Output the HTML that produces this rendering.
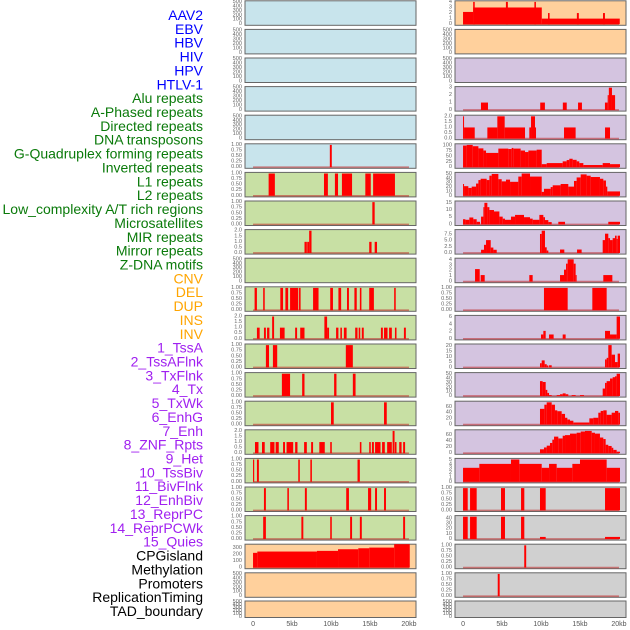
<!DOCTYPE html>
<html><head><meta charset="utf-8"><style>
html,body{margin:0;padding:0;background:#fff;}
svg{display:block;font-family:"Liberation Sans",sans-serif;}
</style></head><body>
<svg id="chart" width="630" height="630" viewBox="0 0 630 630" xmlns="http://www.w3.org/2000/svg"></svg>
<script>
// ---------- labels ----------
const trackLabels = ["AAV2","EBV","HBV","HIV","HPV","HTLV-1","Alu repeats","A-Phased repeats","Directed repeats","DNA transposons","G-Quadruplex forming repeats","Inverted repeats","L1 repeats","L2 repeats","Low_complexity A/T rich regions","Microsatellites","MIR repeats","Mirror repeats","Z-DNA motifs","CNV","DEL","DUP","INS","INV","1_TssA","2_TssAFlnk","3_TxFlnk","4_Tx","5_TxWk","6_EnhG","7_Enh","8_ZNF_Rpts","9_Het","10_TssBiv","11_BivFlnk","12_EnhBiv","13_ReprPC","14_ReprPCWk","15_Quies","CPGisland","Methylation","Promoters","ReplicationTiming","TAD_boundary"];
const labelGroups = [6,13,5,15,5];
const groupColors = ["#0000ff","#0a7a0a","#ffa500","#a020f0","#000000"];
const xTickValues = [0,5,10,15,20];
const xTickLabels = ["0","5kb","10kb","15kb","20kb"];

// ---------- tick sets ----------
const T500 = [0,100,200,300,400,500];
const T1 = [0,0.25,0.5,0.75,1.0];
const T1L = ["0.00","0.25","0.50","0.75","1.00"];
const T2 = [0,0.5,1.0,1.5,2.0];
const T2L = ["0.0","0.5","1.0","1.5","2.0"];

// ---------- left column data: [startKb, endKb, value] ----------
const L_G4 = [[9.85,10.1,1]];
const L_L1 = [[2.0,2.8,1],[9.1,9.6,1],[10.5,10.9,1],[11.4,12.7,1],[14.4,15.1,1],[15.4,18.2,1]];
const L_L2 = [[15.3,15.6,1]];
const L_MIR = [[6.6,6.9,1],[6.95,7.2,1],[7.2,7.5,2],[14.9,15.2,1],[15.6,15.9,1]];
const L_DEL = [[0.2,0.5,1],[1.3,1.5,1],[3.5,3.85,1],[4.15,4.5,1],[4.75,5.8,1],[5.9,6.1,1],[7.7,8.4,1],[9.9,10.25,1],[10.95,11.3,1],[12.05,12.3,1],[13.0,13.3,1],[13.7,13.9,1],[14.9,15.5,1],[18.1,18.3,1]];
const L_DUP = [[0.5,0.85,1],[1.4,1.65,1],[1.8,2.1,1],[2.45,2.7,2],[3.45,4.05,1],[5.4,5.65,1],[6.05,6.6,1],[9.15,9.5,2],[9.5,9.75,1],[10.65,10.95,1],[11.2,11.4,1],[11.65,12.0,1],[13.1,13.4,1],[13.55,13.75,1],[13.95,14.2,1],[16.4,16.65,1],[16.8,17.25,1],[17.45,17.8,1],[18.2,18.4,1],[19.35,19.6,1]];
const L_INS = [[1.65,2.05,1],[2.55,3.1,1],[11.9,12.8,1]];
const L_INV = [[3.7,4.75,1],[6.3,6.6,1],[10.4,10.7,1],[12.8,13.15,1]];
const L_R14 = [[10.0,10.35,1],[16.8,17.15,1]];
const L_R15 = [[0.25,0.7,1],[1.15,1.5,1],[2.2,2.75,1],[2.9,3.3,1],[3.85,4.1,1],[4.3,5.15,1],[5.4,5.7,1],[6.55,6.9,1],[7.45,7.7,1],[8.5,9.2,1],[9.9,10.1,1],[13.7,13.9,1],[14.9,15.1,1],[15.25,15.5,1],[15.65,16.35,1],[16.55,16.9,1],[17.2,17.8,1],[17.9,18.15,2],[18.2,18.4,1],[18.75,19.05,1],[19.25,19.5,1]];
const L_R16 = [[0,0.15,1],[0.5,0.75,1],[5.8,6.0,1],[7.35,7.55,1],[13.4,13.7,1]];
const L_R17 = [[1.4,1.65,1],[4.4,4.6,1],[6.65,6.9,1],[11.95,12.3,1],[14.75,15.15,1],[15.65,15.9,1],[16.8,17.05,1]];
const L_R18 = [[1.3,1.65,1],[6.2,6.45,1],[9.9,10.1,1],[12.45,12.7,1],[13.7,13.95,1],[19.25,19.5,1]];
const L_CPG_edges = [0,0.55,8.2,10.9,13.5,14.9,18.1,20.1];
const L_CPG_values = [225,245,255,280,295,305,360];

// ---------- right column data ----------
const R_AAV2 = [[0,1.3,2.2],[1.3,10.1,3],[10.1,20.1,1],[1.3,1.5,4],[5.5,5.75,4],[9.15,9.35,4],[10.9,11.1,2],[14.6,14.85,2],[17.95,18.2,2]];
const R_ALU = [[2.3,3.2,1],[9.9,10.5,1],[12.8,13.3,1],[14.75,15.25,1],[18.2,18.55,1],[18.55,18.7,2],[18.7,19.1,3],[19.1,19.5,2]];
const R_DIR = [[0,0.13,2],[0.13,1.5,1],[3.12,4.4,1],[4.4,5.34,2],[5.34,7.95,1],[8.5,8.72,1],[8.72,9.23,2],[9.23,9.36,1],[12.95,14.44,1],[18.21,18.85,1]];
const R_G4_edges = [0,0.47,1.24,1.97,2.61,2.95,4.53,5.81,6.24,6.45,7.39,7.95,8.38,9.44,10.09,10.73,12.78,13.29,13.63,14.06,14.57,14.91,15.43,17.91,18.85,20.13];
const R_G4_values = [100,103,97,87,77,66,86,84,89,86,77,70,77,81,14,19,27,33,39,34,27,19,10,19,14];
const R_INV_edges = [0,0.13,0.68,1.11,1.67,1.97,2.26,3.03,3.38,3.68,4.53,4.96,5.51,6.03,7.09,7.52,8.59,10.09,10.38,11.24,11.5,12.52,13.5,14.23,14.57,15.09,15.85,16.37,17.56,17.99,18.33,18.5,20.13];
const R_INV_values = [27,22,18,21,28,36,39,36,46,50,38,33,37,32,44,51,44,9,16,20,24,27,21,34,42,49,46,43,39,35,21,10];
const R_LOW_edges = [0,0.3,0.81,1.32,1.75,2.18,2.31,2.61,2.74,3.12,3.38,3.97,4.66,5.09,5.38,6.15,6.67,7.82,8.59,8.93,9.79,10.3,10.51,10.94,11.37,12.22,13.08,18.63,20.13];
const R_LOW_values = [3.6,3.2,4.8,3.6,1.8,0,5.4,12,15,12,10,9,5.4,4,3.2,5.4,6.6,5,4,3.2,6.6,5,3,1.6,0,1.8,0,1.8];
const R_MIR = [[2.31,2.69,1.3],[2.69,2.95,3.3],[2.95,3.55,5.2],[3.55,3.89,2.2],[3.89,4.32,1.3],[9.87,10.09,7.7],[10.09,10.51,9],[10.51,10.73,2.3],[10.73,10.94,1],[12.44,12.99,1.4],[14.62,15.21,1.4],[17.91,18.21,5.2],[18.21,18.63,7.8],[18.63,18.85,6],[18.85,19.19,5.2],[19.19,19.49,6],[19.49,19.7,7],[19.7,19.83,5.7],[19.83,20.13,7]];
const R_ZDNA = [[1.54,2.14,2.3],[2.26,2.78,1.2],[8.5,8.93,1.2],[12.44,12.95,1.2],[12.95,13.21,2.2],[13.21,13.42,3.3],[13.42,14.19,4.1],[14.19,14.44,3.3],[14.44,14.57,1.2],[17.99,19.15,1.2]];
const R_DEL = [[10.38,13.42,1],[16.58,18.42,1]];
const R_DUP = [[10.0,10.3,1.2],[10.3,10.6,2.2],[11.03,11.62,1.2],[12.78,13.16,1.2],[18.21,18.85,2.2],[18.85,19.7,1.2],[19.7,20.13,6.2]];
const R_INS = [[9.87,10.09,3.9],[10.09,10.47,6.6],[10.47,10.73,3],[10.73,10.94,1.8],[11.03,11.37,2],[18.21,18.42,7.5],[18.42,18.63,9],[18.63,19.06,21],[19.06,19.49,12],[19.49,19.83,5],[19.83,20.13,13]];
const R_INV2 = [[9.87,10.21,34],[10.21,10.6,32],[10.6,10.81,14],[10.81,11.03,7],[11.03,11.37,2],[12.01,12.44,2],[12.44,12.78,4],[12.78,13.16,6],[13.16,13.5,4],[13.93,14.44,2],[15.0,15.51,2],[17.91,18.21,17],[18.21,18.42,30],[18.42,18.85,34],[18.85,19.19,40],[19.19,19.49,43],[19.49,19.7,45],[19.7,20.13,51]];
const R_S14_edges = [9.87,10.43,10.73,11.37,11.79,12.09,12.65,13.08,13.38,13.72,14.15,16.2,16.71,17.35,17.65,17.99,18.42,19.06,19.49,19.91,20.13];
const R_S14_values = [53,67,75,67,48,45,36,23,17,13,7,21,23,40,46,48,33,40,46,40];
const R_S15_edges = [9.87,10.38,10.73,11.15,11.45,11.67,12.22,12.78,13.08,13.72,14.57,15.09,15.64,16.5,16.92,17.56,17.99,18.29,18.63,19.06,19.27,19.7,20.13];
const R_S15_values = [13,19,25,34,45,55,49,58,60,65,68,72,74,68,65,52,47,28,24,18,11,5];
const R_S16_edges = [0,2.09,6.15,7.22,10.09,11.03,12.01,14.02,15.0,18.42,20.13];
const R_S16_values = [3.2,4.1,5.1,4.1,3.2,4.1,3.2,4.1,5.1,3.2];
const R_S17 = [[0,0.6,1],[0.9,1.75,1],[4.87,5.38,1],[7.44,7.86,1],[9.87,10.6,1],[18.21,20.13,1]];
const R_S18 = [[0,0.6,43],[0.9,1.75,43],[4.87,5.38,43],[7.44,7.86,43],[9.87,10.6,4],[18.21,20.13,4]];
const R_S19 = [[7.85,8.1,1]];
const R_S20 = [[4.45,4.7,1]];

function stepToBars(edges, values){ const out=[]; for(let i=0;i<values.length;i++){ if(values[i]>0) out.push([edges[i],edges[i+1],values[i]]); } return out; }

const BLUE="#c8e4ec", GREEN="#c8e0a4", ORANGE="#ffd09c", PURPLE="#d4c4e0", GREY="#d0d0d0";
// [bars, fill, ticks, tickLabels, yMax]
const leftPanels = [
 [null,BLUE,T500,null,500],[null,BLUE,T500,null,500],[null,BLUE,T500,null,500],[null,BLUE,T500,null,500],[null,BLUE,T500,null,500],
 [L_G4,BLUE,T1,T1L,1],
 [L_L1,GREEN,T1,T1L,1],[L_L2,GREEN,T1,T1L,1],[L_MIR,GREEN,T2,T2L,2],[null,GREEN,T500,null,500],
 [L_DEL,GREEN,T1,T1L,1],[L_DUP,GREEN,T2,T2L,2],[L_INS,GREEN,T1,T1L,1],[L_INV,GREEN,T1,T1L,1],[L_R14,GREEN,T1,T1L,1],
 [L_R15,GREEN,T2,T2L,2],[L_R16,GREEN,T1,T1L,1],[L_R17,GREEN,T1,T1L,1],[L_R18,GREEN,T1,T1L,1],
 [stepToBars(L_CPG_edges,L_CPG_values),ORANGE,[0,100,200,300],null,340],
 [null,ORANGE,T500,null,500],[null,ORANGE,T500,null,500]
];
const rightPanels = [
 [R_AAV2,ORANGE,[0,1,2,3,4],null,4],[null,ORANGE,T500,null,500],[null,PURPLE,T500,null,500],
 [R_ALU,PURPLE,[0,1,2,3],null,3],[R_DIR,PURPLE,T2,T2L,2],
 [stepToBars(R_G4_edges,R_G4_values),PURPLE,[0,25,50,75,100],null,103],
 [stepToBars(R_INV_edges,R_INV_values),PURPLE,[0,10,20,30,40,50],null,51],
 [stepToBars(R_LOW_edges,R_LOW_values),PURPLE,[0,5,10,15],null,15.5],
 [R_MIR,PURPLE,[0,2.5,5,7.5],["0.0","2.5","5.0","7.5"],9],
 [R_ZDNA,PURPLE,[0,1,2,3,4],null,4.1],[R_DEL,PURPLE,T1,T1L,1],[R_DUP,PURPLE,[0,2,4,6],null,6.2],
 [R_INS,PURPLE,[0,5,10,15,20],null,21],[R_INV2,PURPLE,[0,10,20,30,40,50],null,51],
 [stepToBars(R_S14_edges,R_S14_values),PURPLE,[0,20,40,60],null,75],
 [stepToBars(R_S15_edges,R_S15_values),PURPLE,[0,20,40,60],null,74],
 [stepToBars(R_S16_edges,R_S16_values),PURPLE,[0,1,2,3,4,5],null,5.1],
 [R_S17,GREY,T1,T1L,1],[R_S18,GREY,[0,10,20,30,40],null,43],[R_S19,GREY,T1,T1L,1],[R_S20,GREY,T1,T1L,1],[null,GREY,T500,null,500]
];

const NS="http://www.w3.org/2000/svg";
const svg=document.getElementById('chart');
function el(tag, attrs, parent){ const e=document.createElementNS(NS,tag); for(const k in attrs) e.setAttribute(k,attrs[k]); (parent||svg).appendChild(e); return e; }

// labels
let li=0;
labelGroups.forEach((n,g)=>{ for(let k=0;k<n;k++){ const t=el('text',{x:203,y:15+13.86*li,'text-anchor':'end','dominant-baseline':'central','font-size':14,fill:groupColors[g]});
 t.textContent=trackLabels[li];
 
 
 li++; }});

const XMIN=-1.03, XMAX=20.9;
function drawPanel(p, row, x0, w, side){
 const [bars, fill, ticks, tlabels, yMax] = p;
 const top = row<21 ? 0.8+28.6*row : 601;
 const h = row<21 ? 24.5 : 16.5;
 const yMin = -0.05*yMax;
 const yTop = yMax*1.05;
 const sx = v => x0 + (v-XMIN)/(XMAX-XMIN)*w;
 const sy = v => top + h - (v-yMin)/(yTop-yMin)*h;
 const g=el('g',{});
 
 
 const r=el('rect',{x:x0,y:top,width:w,height:h,fill:fill,stroke:'#666','stroke-width':1},g);
 
 
 if(bars){
  const base=el('line',{x1:sx(0),x2:sx(20),y1:sy(0),y2:sy(0),stroke:'rgba(190,40,40,0.55)','stroke-width':1.6},g);
  
  
  bars.forEach(b=>{
   const vTop=Math.min(b[2],yTop);
   const rr=el('rect',{x:sx(b[0]),y:sy(vTop),width:Math.max(0.8,sx(b[1])-sx(b[0])),height:Math.max(0,sy(0)-sy(vTop)),fill:'#ff0000'},g);
   
   
  });
 }
 ticks.forEach((t,i)=>{
  const tt=el('text',{x:x0-3,y:sy(t),'text-anchor':'end','dominant-baseline':'central','font-size':5.6,fill:'#666'},g);
  tt.textContent = tlabels ? tlabels[i] : String(t);
  
  
 });
}
leftPanels.forEach((p,i)=>drawPanel(p,i,245,171,'left'));
rightPanels.forEach((p,i)=>drawPanel(p,i,455,171,'right'));

[[245],[455]].forEach(([x0],c)=>{
 xTickValues.forEach((v,i)=>{
  const t=el('text',{x:x0+(v-XMIN)/(XMAX-XMIN)*171,y:626,'text-anchor':'middle','font-size':7,fill:'#555'});
  t.textContent=xTickLabels[i];
  
  
 });
});
</script>
</body></html>
